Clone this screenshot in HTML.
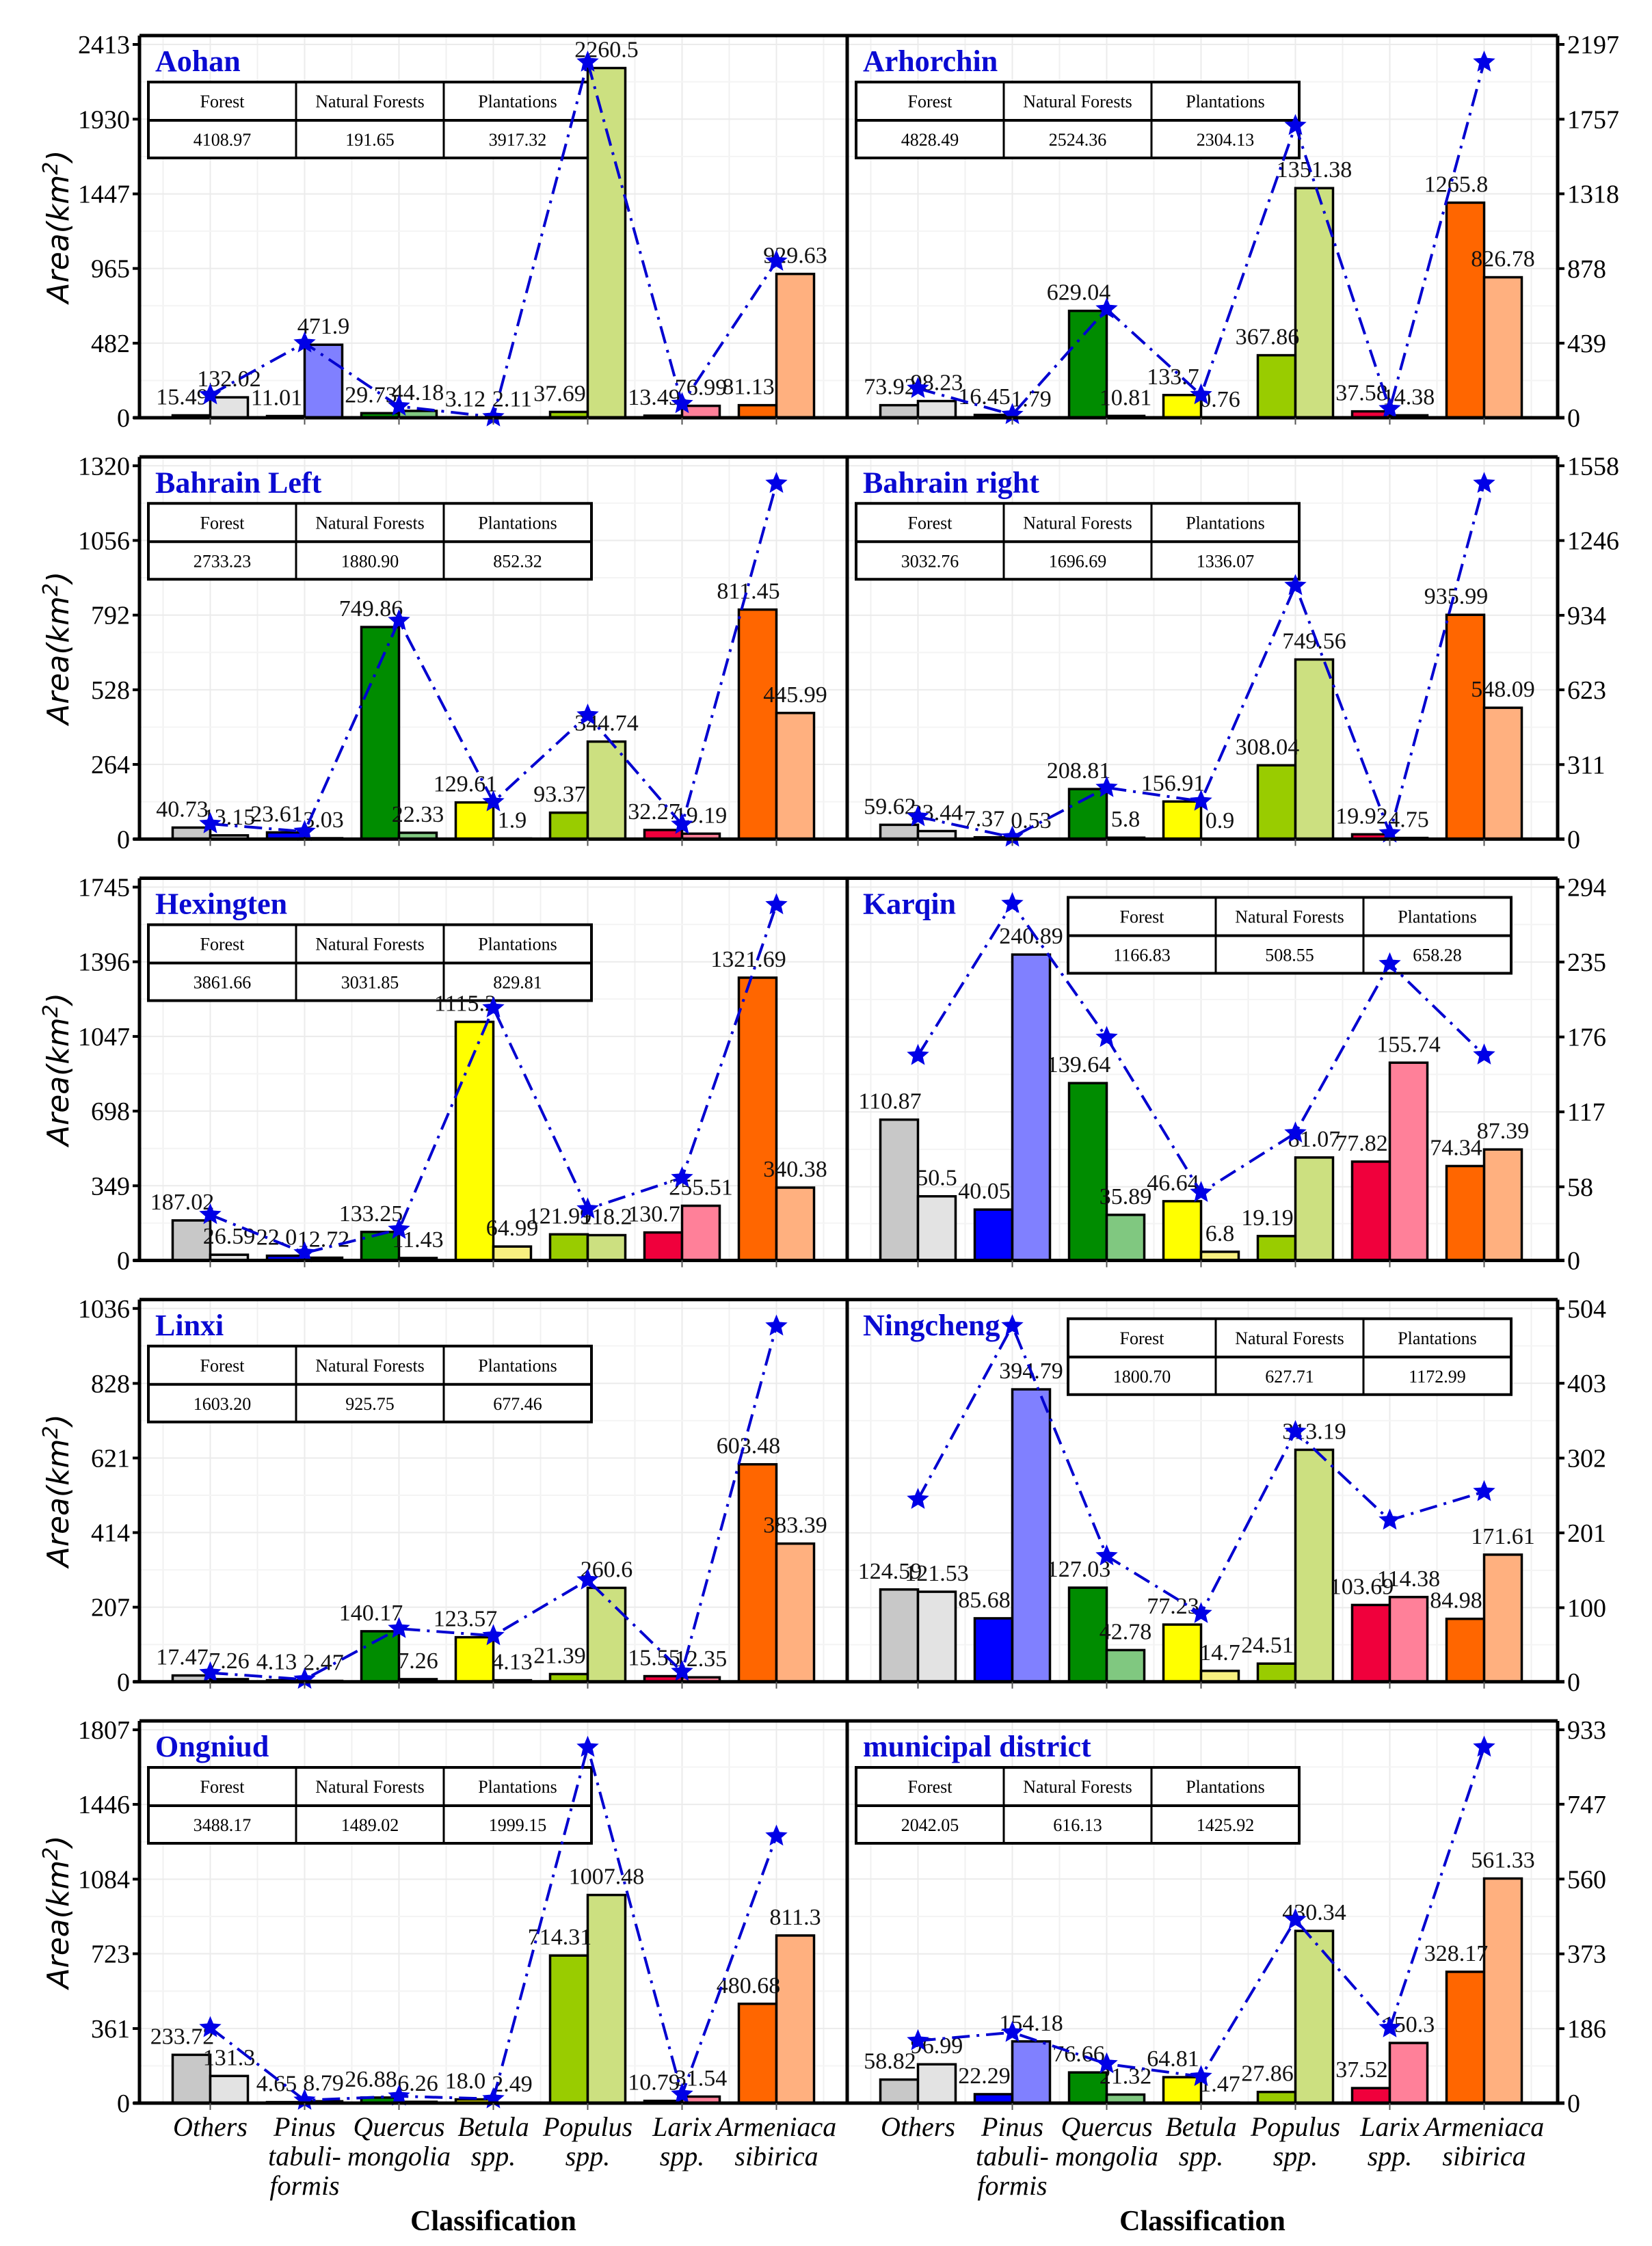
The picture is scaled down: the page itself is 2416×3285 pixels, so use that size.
<!DOCTYPE html>
<html><head><meta charset="utf-8">
<style>
html,body{margin:0;padding:0;background:#fff;}
svg{display:block;}
text{font-family:"Liberation Serif",serif;}
</style></head>
<body>
<svg id="s" width="2416" height="3285" viewBox="0 0 2416 3285" xmlns="http://www.w3.org/2000/svg"></svg>
<script>
var P=[
["Aohan",2413,[482,965,1447,1930,2413],[[15.49,132.02],[11.01,471.9],[29.73,44.18],[3.12,2.11],[37.69,2260.5],[13.49,76.99],[81.13,929.63]],["4108.97","191.65","3917.32"],0,["15.49","132.02","11.01","471.9","29.73","44.18","3.12","2.11","37.69","2260.5","13.49","76.99","81.13","929.63"]],
["Arhorchin",2197,[439,878,1318,1757,2197],[[73.92,98.23],[16.45,1.79],[629.04,10.81],[133.7,0.76],[367.86,1351.38],[37.58,14.38],[1265.8,826.78]],["4828.49","2524.36","2304.13"],0,["73.92","98.23","16.45","1.79","629.04","10.81","133.7","0.76","367.86","1351.38","37.58","14.38","1265.8","826.78"]],
["Bahrain Left",1320,[264,528,792,1056,1320],[[40.73,13.15],[23.61,3.03],[749.86,22.33],[129.61,1.9],[93.37,344.74],[32.27,19.19],[811.45,445.99]],["2733.23","1880.90","852.32"],0,["40.73","13.15","23.61","3.03","749.86","22.33","129.61","1.9","93.37","344.74","32.27","19.19","811.45","445.99"]],
["Bahrain right",1558,[311,623,934,1246,1558],[[59.62,33.44],[7.37,0.53],[208.81,5.8],[156.91,0.9],[308.04,749.56],[19.92,4.75],[935.99,548.09]],["3032.76","1696.69","1336.07"],0,["59.62","33.44","7.37","0.53","208.81","5.8","156.91","0.9","308.04","749.56","19.92","4.75","935.99","548.09"]],
["Hexingten",1745,[349,698,1047,1396,1745],[[187.02,26.59],[22.0,12.72],[133.25,11.43],[1115.2,64.99],[121.99,118.2],[130.7,255.51],[1321.69,340.38]],["3861.66","3031.85","829.81"],0,["187.02","26.59","22.0","12.72","133.25","11.43","1115.2","64.99","121.99","118.2","130.7","255.51","1321.69","340.38"]],
["Karqin",294,[58,117,176,235,294],[[110.87,50.5],[40.05,240.89],[139.64,35.89],[46.64,6.8],[19.19,81.07],[77.82,155.74],[74.34,87.39]],["1166.83","508.55","658.28"],1,["110.87","50.5","40.05","240.89","139.64","35.89","46.64","6.8","19.19","81.07","77.82","155.74","74.34","87.39"]],
["Linxi",1036,[207,414,621,828,1036],[[17.47,7.26],[4.13,2.47],[140.17,7.26],[123.57,4.13],[21.39,260.6],[15.55,12.35],[603.48,383.39]],["1603.20","925.75","677.46"],0,["17.47","7.26","4.13","2.47","140.17","7.26","123.57","4.13","21.39","260.6","15.55","12.35","603.48","383.39"]],
["Ningcheng",504,[100,201,302,403,504],[[124.59,121.53],[85.68,394.79],[127.03,42.78],[77.23,14.7],[24.51,313.19],[103.69,114.38],[84.98,171.61]],["1800.70","627.71","1172.99"],1,["124.59","121.53","85.68","394.79","127.03","42.78","77.23","14.7","24.51","313.19","103.69","114.38","84.98","171.61"]],
["Ongniud",1807,[361,723,1084,1446,1807],[[233.72,131.3],[4.65,8.79],[26.88,6.26],[18.0,2.49],[714.31,1007.48],[10.79,31.54],[480.68,811.3]],["3488.17","1489.02","1999.15"],0,["233.72","131.3","4.65","8.79","26.88","6.26","18.0","2.49","714.31","1007.48","10.79","31.54","480.68","811.3"]],
["municipal district",933,[186,373,560,747,933],[[58.82,96.99],[22.29,154.18],[76.66,21.32],[64.81,1.47],[27.86,430.34],[37.52,150.3],[328.17,561.33]],["2042.05","616.13","1425.92"],0,["58.82","96.99","22.29","154.18","76.66","21.32","64.81","1.47","27.86","430.34","37.52","150.3","328.17","561.33"]]
];
var C=[["#c8c8c8","#e3e3e3"],["#0000ff","#8080ff"],["#008c00","#80c880"],["#ffff00","#f8f080"],["#99cc00","#cce080"],["#f0003c","#ff8099"],["#ff6600","#ffb07f"]];
var out=[];
function star(x,y,r){var p=[];for(var k=0;k<10;k++){var a=-Math.PI/2+k*Math.PI/5,rr=k%2?r*0.45:r;p.push((x+rr*Math.cos(a)).toFixed(1)+","+(y+rr*Math.sin(a)).toFixed(1));}return '<polygon points="'+p.join(" ")+'" fill="#0000e6"/>';}
P.forEach(function(d,idx){
 var r=Math.floor(idx/2),c=idx%2;
 var T=52+r*616.25,A=T+559,L=c?1239:204,R=c?2278:1239,W=138,mx=d[1];
 function Y(v){return A-v/mx*546;}
 for(var i=0;i<=8;i++){var x=L+34.5+i*W;var x2=L+103.5+i*W;
   if(x<R) out.push('<line x1="'+x+'" y1="'+T+'" x2="'+x+'" y2="'+A+'" stroke="#f0f0f0" stroke-width="2"/>');
   if(x2<R) out.push('<line x1="'+x2+'" y1="'+T+'" x2="'+x2+'" y2="'+A+'" stroke="#ebebeb" stroke-width="2"/>');}
 var tv=[0].concat(d[2]);
 for(var i=0;i<tv.length;i++){var y=Y(tv[i]);out.push('<line x1="'+L+'" y1="'+y+'" x2="'+R+'" y2="'+y+'" stroke="#ebebeb" stroke-width="2"/>');
   if(i>0){var ym=Y((tv[i]+tv[i-1])/2);out.push('<line x1="'+L+'" y1="'+ym+'" x2="'+R+'" y2="'+ym+'" stroke="#f4f4f4" stroke-width="2"/>');}}
 // table (drawn beneath bars/line)
 var tableRight=(d[5]===1);
 var tl=tableRight?L+323:L+13, tt=tableRight?T+28:T+68;
 var tw=648,th=111,cw=tw/3;
 out.push('<rect x="'+tl+'" y="'+tt+'" width="'+tw+'" height="'+th+'" fill="#fff" stroke="#000" stroke-width="4"/>');
 out.push('<line x1="'+tl+'" y1="'+(tt+56)+'" x2="'+(tl+tw)+'" y2="'+(tt+56)+'" stroke="#000" stroke-width="4"/>');
 out.push('<line x1="'+(tl+cw)+'" y1="'+tt+'" x2="'+(tl+cw)+'" y2="'+(tt+th)+'" stroke="#000" stroke-width="3"/>');
 out.push('<line x1="'+(tl+2*cw)+'" y1="'+tt+'" x2="'+(tl+2*cw)+'" y2="'+(tt+th)+'" stroke="#000" stroke-width="3"/>');
 ["Forest","Natural Forests","Plantations"].forEach(function(h,j){
   out.push('<text x="'+(tl+cw*j+cw/2)+'" y="'+(tt+37)+'" font-size="26" text-anchor="middle">'+h+'</text>');
   out.push('<text x="'+(tl+cw*j+cw/2)+'" y="'+(tt+93)+'" font-size="26" text-anchor="middle">'+d[4][j]+'</text>');
 });
 var pts=[];
 d[3].forEach(function(v,i){var cx=L+103.5+i*W;
   var y0=Y(v[0]),y1=Y(v[1]);
   out.push('<rect x="'+(cx-55)+'" y="'+y0+'" width="55" height="'+(A-y0)+'" fill="'+C[i][0]+'" stroke="#000" stroke-width="3.5"/>');
   out.push('<rect x="'+cx+'" y="'+y1+'" width="55" height="'+(A-y1)+'" fill="'+C[i][1]+'" stroke="#000" stroke-width="3.5"/>');
   pts.push([cx,Y(v[0]+v[1])]);
 });
 d[3].forEach(function(v,i){var cx=L+103.5+i*W;
   out.push('<text x="'+(cx-41)+'" y="'+(Y(v[0])-16)+'" font-size="34" text-anchor="middle" fill="#111">'+d[6][2*i]+'</text>');
   out.push('<text x="'+(cx+27.5)+'" y="'+(Y(v[1])-16)+'" font-size="34" text-anchor="middle" fill="#111">'+d[6][2*i+1]+'</text>');
 });
 out.push('<polyline points="'+pts.map(function(p){return p[0]+","+p[1].toFixed(1)}).join(" ")+'" fill="none" stroke="#0000d0" stroke-width="4" stroke-dasharray="26 10 4 10"/>');
 pts.forEach(function(p){out.push(star(p[0],p[1],17));});
 out.push('<line x1="'+L+'" y1="'+T+'" x2="'+R+'" y2="'+T+'" stroke="#000" stroke-width="5"/>');
 out.push('<line x1="'+L+'" y1="'+T+'" x2="'+L+'" y2="'+A+'" stroke="#000" stroke-width="5"/>');
 if(c) out.push('<line x1="'+R+'" y1="'+T+'" x2="'+R+'" y2="'+A+'" stroke="#000" stroke-width="5"/>');
 out.push('<line x1="'+(c?L:195)+'" y1="'+A+'" x2="'+(c?2288:R)+'" y2="'+A+'" stroke="#000" stroke-width="5"/>');
 for(var i=0;i<7;i++){var cx=L+103.5+i*W;out.push('<line x1="'+cx+'" y1="'+A+'" x2="'+cx+'" y2="'+(A+10)+'" stroke="#555" stroke-width="2"/>');}
 tv.forEach(function(t){var y=Y(t);
   if(c){out.push('<line x1="'+R+'" y1="'+y+'" x2="'+(R+10)+'" y2="'+y+'" stroke="#000" stroke-width="4"/>');
     out.push('<text x="'+(R+14)+'" y="'+(y+13)+'" font-size="38">'+t+'</text>');}
   else{out.push('<line x1="'+(L-10)+'" y1="'+y+'" x2="'+L+'" y2="'+y+'" stroke="#000" stroke-width="4"/>');
     out.push('<text x="'+(L-14)+'" y="'+(y+13)+'" font-size="38" text-anchor="end">'+t+'</text>');}
 });
 out.push('<text x="'+(L+23)+'" y="'+(T+52)+'" font-size="44" font-weight="bold" fill="#0a0ad2">'+d[0]+'</text>');
 if(!c){out.push('<text transform="translate(100,'+((T+A)/2)+') rotate(-90)" font-size="44" font-style="italic" text-anchor="middle" style="font-family:\'DejaVu Sans\',sans-serif">Area(<tspan>km</tspan><tspan dy="-16" font-size="30">2</tspan><tspan dy="16">)</tspan></text>');}
 if(r===4){
   var labs=[["Others"],["Pinus","tabuli-","formis"],["Quercus","mongolia"],["Betula","spp."],["Populus","spp."],["Larix","spp."],["Armeniaca","sibirica"]];
   labs.forEach(function(ls,i){var cx=L+103.5+i*W;ls.forEach(function(s,k){out.push('<text x="'+cx+'" y="'+(A+48+k*43)+'" font-size="40" font-style="italic" text-anchor="middle">'+s+'</text>');});});
   out.push('<text x="'+(L+R)/2+'" y="'+(A+186)+'" font-size="42" font-weight="bold" text-anchor="middle">Classification</text>');
 }
});
document.getElementById("s").innerHTML=out.join("");
</script>
</body></html>
